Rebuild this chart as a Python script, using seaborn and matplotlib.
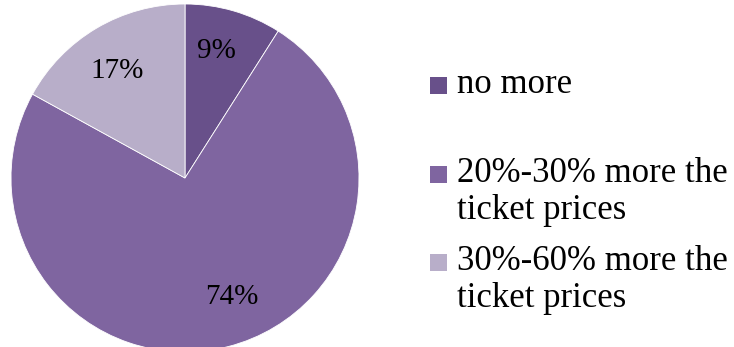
import matplotlib
matplotlib.use("Agg")
import matplotlib.pyplot as plt
from matplotlib.patches import Rectangle
import seaborn as sns

# Survey answers: how much more people would pay over ticket prices
categories = ["no more", "20%-30% more the\nticket prices", "30%-60% more the\nticket prices"]
shares = [9, 74, 17]
colors = ["#68508A", "#7F65A0", "#B8AEC9"]

sns.set_style("white")
plt.rcParams["font.family"] = ["Liberation Serif", "DejaVu Serif"]

W, H = 734, 347
fig = plt.figure(figsize=(W / 100, H / 100), dpi=100)
fig.patch.set_facecolor("white")

# Pie occupies a square region on the left (pixel box 11..359 wide, 4..352 tall)
cx, cy, r = 185, 178, 174
ax = fig.add_axes([(cx - r) / W, (H - (cy + r)) / H, 2 * r / W, 2 * r / H])
palette = sns.color_palette(colors)
wedges, texts, autotexts = ax.pie(
    shares,
    colors=palette,
    startangle=90,
    counterclock=False,
    autopct=lambda p: f"{p:.0f}%",
    pctdistance=0.75,
    wedgeprops=dict(linewidth=0.6, edgecolor="white"),
    textprops=dict(fontsize=21, color="black"),
)
# fine-tune label placement inside the slices
x9, y9 = autotexts[0].get_position()
autotexts[0].set_position((x9 - 0.03, y9 + 0.01))
x74, y74 = autotexts[1].get_position()
autotexts[1].set_position((x74 + 0.08, y74 + 0.04))
x17, y17 = autotexts[2].get_position()
autotexts[2].set_position((x17 - 0.01, y17 - 0.03))
ax.set_xlim(-1, 1)
ax.set_ylim(-1, 1)
ax.set_aspect("equal")
ax.axis("off")

# Legend drawn as coloured squares with wrapped labels
baselines = [93, 182, 270]
line_step = 37
sq = 17
for lab, col, base in zip(categories, palette, baselines):
    fig.patches.append(Rectangle((430 / W, (H - base - 1) / H), sq / W, sq / H,
                                 transform=fig.transFigure, facecolor=col,
                                 edgecolor="none"))
    for i, line in enumerate(lab.split("\n")):
        fig.text(457 / W, (H - base - i * line_step) / H, line, fontsize=25,
                 va="baseline", ha="left", color="black")

fig.savefig("out.png", dpi=100, facecolor="white")
